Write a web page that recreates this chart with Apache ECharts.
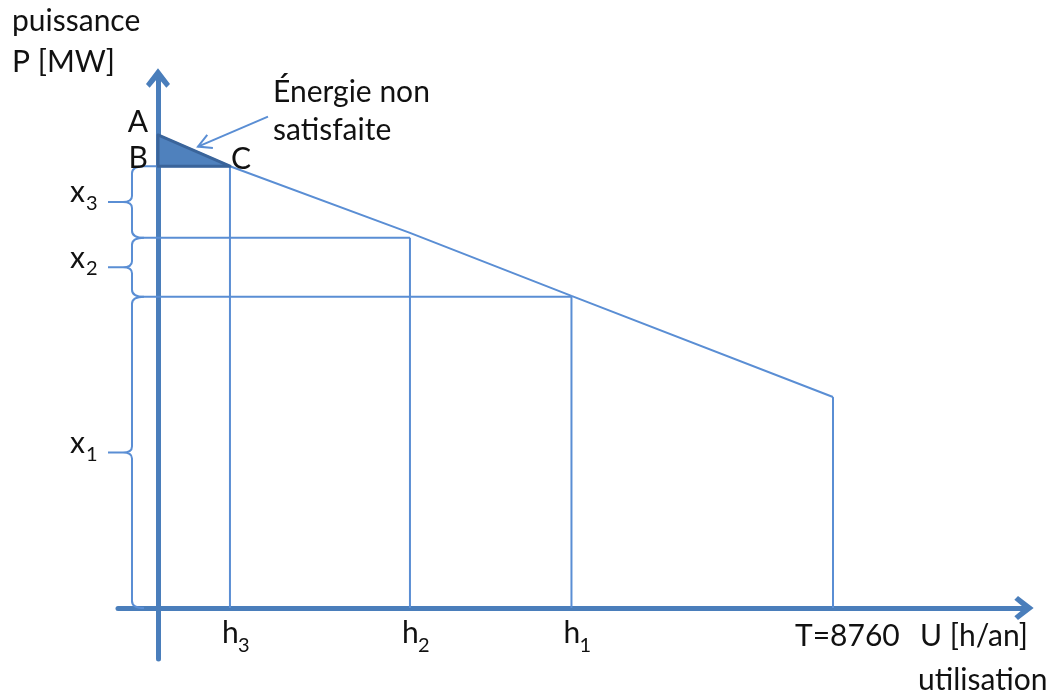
<!DOCTYPE html>
<html>
<head>
<meta charset="utf-8">
<title>Monotone de charge</title>
<script src="https://cdn.jsdelivr.net/npm/echarts@6/dist/echarts.min.js"></script>
<style>
html, body { margin: 0; padding: 0; background: #fff; }
#chart { width: 1052px; height: 700px; }
</style>
</head>
<body>
<div id="chart"></div>
<script>
// monotone de charge : heures d'utilisation (h/an) et puissance appelée (MW)
var heures = [0, 934, 3270, 5366, 8760];
var puissance = [100, 93.4, 79.3, 66.0, 44.6];
// tranches x1, x2, x3 : limites de puissance et durée d'utilisation
var limites = [0, 65.8, 78.3, 93.4];
var durees = [5366, 3270, 934];
var indices = ['1', '2', '3'];
var periode = 8760;
var lettres = ['A', 'B', 'C'];

var bleu = '#5a8ed4';
var bleuAxe = '#4a7ebb';
var police = 'Lato';
var taille = 30;
var tailleIndice = 20;

var chart = echarts.init(document.getElementById('chart'));

// texte avec y = ligne de base (zrender centre sur "middle")
function texte(str, x, base, opt) {
	opt = opt || {};
	var fs = opt.fontSize || taille;
	return {
		type: 'text',
		z2: 20,
		style: {
			text: str,
			x: x,
			y: base - fs * 0.31,
			fill: '#111',
			fontSize: fs,
			fontFamily: police,
			align: opt.align || 'left',
			verticalAlign: 'middle'
		}
	};
}

/*
 * tranche : accolade, étiquette x_i, lignes horizontale et verticale
 */
function renderTranche(params, api) {
	var i = params.dataIndex;
	var duree = api.value(0), bas = api.value(1), haut = api.value(2);
	var origine = api.coord([0, bas]);
	var sommet = api.coord([0, haut]);
	var coin = api.coord([duree, haut]);
	var pied = api.coord([duree, 0]);
	var x0 = origine[0];
	var sx = x0 - 26, tx = x0 - 50, ex = x0 - 14;
	var top = sommet[1], bot = origine[1], mid = (top + bot) / 2;
	var d = 'M' + ex + ' ' + top + ' Q' + sx + ' ' + top + ' ' + sx + ' ' + (top + 7) +
		' L' + sx + ' ' + (mid - 6) + ' Q' + sx + ' ' + mid + ' ' + (sx - 9) + ' ' + mid +
		' L' + tx + ' ' + mid +
		' M' + (sx - 9) + ' ' + mid + ' Q' + sx + ' ' + mid + ' ' + sx + ' ' + (mid + 6) +
		' L' + sx + ' ' + (bot - 7) + ' Q' + sx + ' ' + bot + ' ' + ex + ' ' + bot;
	var trait = { stroke: bleu, lineWidth: 2 };
	return {
		type: 'group',
		children: [
			{ type: 'line', shape: { x1: ex, y1: top, x2: coin[0], y2: coin[1] }, style: trait },
			{ type: 'line', shape: { x1: coin[0], y1: coin[1], x2: pied[0], y2: pied[1] }, style: trait },
			{ type: 'path', shape: { pathData: d }, style: { fill: 'none', stroke: bleu, lineWidth: 2 } },
			texte('x', tx - 23, mid, { align: 'right' }),
			texte(indices[i], tx - 22, mid + 8, { fontSize: tailleIndice })
		]
	};
}

/*
 * étiquettes h_i sous l'axe des abscisses
 */
function renderHeure(params, api) {
	var p = api.coord([api.value(0), 0]);
	return {
		type: 'group',
		children: [
			texte('h', p[0] - 8, p[1] + 35),
			texte(indices[params.dataIndex], p[0] + 8, p[1] + 44, { fontSize: tailleIndice })
		]
	};
}

/*
 * triangle ABC de l'énergie non satisfaite + flèche
 */
function renderTriangle(params, api) {
	var a = api.coord([heures[0], puissance[0]]);
	var b = api.coord([0, limites[3]]);
	var c = api.coord([durees[2], limites[3]]);
	var pointe = [(a[0] + c[0]) / 2 + 4, (a[1] + c[1]) / 2 - 4];
	var depart = [pointe[0] + 70, pointe[1] - 30];
	var ang = Math.atan2(pointe[1] - depart[1], pointe[0] - depart[0]);
	var l = 15, ouv = 0.5;
	var p1 = [pointe[0] - l * Math.cos(ang - ouv), pointe[1] - l * Math.sin(ang - ouv)];
	var p2 = [pointe[0] - l * Math.cos(ang + ouv), pointe[1] - l * Math.sin(ang + ouv)];
	return {
		type: 'group',
		children: [
			{
				type: 'polygon', z2: 10,
				shape: { points: [a, b, c] },
				style: { fill: '#4f81bd', stroke: '#3a649a', lineWidth: 3, lineJoin: 'round' }
			},
			{ type: 'line', shape: { x1: depart[0], y1: depart[1], x2: pointe[0], y2: pointe[1] }, style: { stroke: bleu, lineWidth: 2 } },
			{ type: 'polyline', shape: { points: [p1, pointe, p2] }, style: { fill: 'none', stroke: bleu, lineWidth: 2 } },
			texte(lettres[0], a[0] - 10, a[1] - 3, { align: 'right' }),
			texte(lettres[1], b[0] - 10, b[1] + 1, { align: 'right' }),
			texte(lettres[2], c[0] + 1, c[1] + 2)
		]
	};
}

var fleche = 'path://M11.5,0 L23,15 L19.5,18.5 L11.5,9 L3.5,18.5 L0,15 Z';

var option = {
	animation: false,
	backgroundColor: '#fff',
	grid: { left: 118, right: 28, top: 78, bottom: 41 },
	xAxis: {
		type: 'value',
		min: -519,
		max: 11239,
		axisLine: {
			onZero: true,
			symbol: ['none', fleche],
			symbolSize: [24, 20],
			lineStyle: { color: bleuAxe, width: 5 }
		},
		axisTick: { show: false },
		axisLabel: { show: false },
		splitLine: { show: false }
	},
	yAxis: {
		type: 'value',
		min: -10.78,
		max: 112.05,
		axisLine: {
			onZero: true,
			symbol: ['none', fleche],
			symbolSize: [24, 20],
			lineStyle: { color: bleuAxe, width: 5 }
		},
		axisTick: { show: false },
		axisLabel: { show: false },
		splitLine: { show: false }
	},
	graphic: [
		texte('puissance', 12, 31),
		texte('P [MW]', 12, 72),
		texte('Énergie non', 273, 102),
		texte('satisfaite', 273, 140),
		texte('U [h/an]', 920, 646),
		texte('utilisation', 918, 690)
	],
	series: [
		{
			name: 'monotone',
			type: 'line',
			z: 3,
			showSymbol: false,
			silent: true,
			lineStyle: { color: bleu, width: 2 },
			data: heures.map(function (h, i) { return [h, puissance[i]]; })
		},
		{
			name: 'fin',
			type: 'line',
			z: 3,
			showSymbol: false,
			silent: true,
			lineStyle: { color: bleu, width: 2 },
			data: [[periode, puissance[puissance.length - 1]], [periode, 0]]
		},
		{
			name: 'tranches',
			type: 'custom',
			z: 2,
			silent: true,
			renderItem: renderTranche,
			data: durees.map(function (d, i) { return [d, limites[i], limites[i + 1]]; })
		},
		{
			name: 'heures',
			type: 'custom',
			silent: true,
			renderItem: renderHeure,
			data: durees.map(function (d) { return [d]; })
		},
		{
			name: 'periode',
			type: 'custom',
			silent: true,
			renderItem: function (params, api) {
				var p = api.coord([api.value(0), 0]);
				return texte('T=' + api.value(0), p[0] - 38, p[1] + 38);
			},
			data: [[periode]]
		},
		{
			name: 'energie non satisfaite',
			type: 'custom',
			z: 5,
			silent: true,
			renderItem: renderTriangle,
			data: [[0]]
		}
	]
};
chart.setOption(option);
</script>
</body>
</html>
